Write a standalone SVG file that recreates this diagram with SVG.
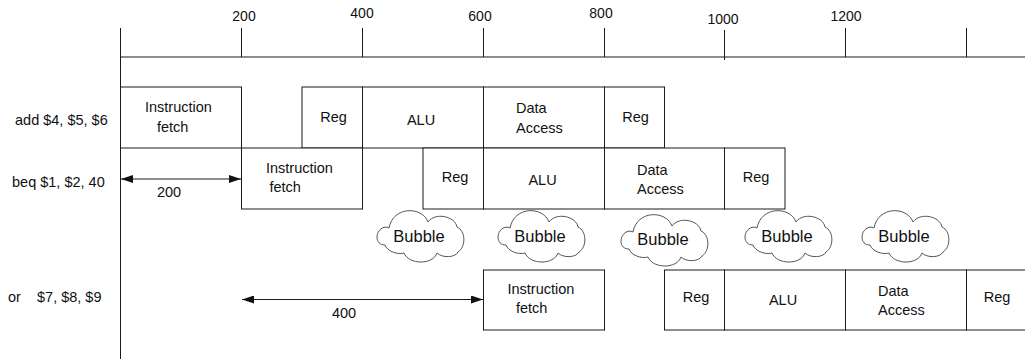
<svg xmlns="http://www.w3.org/2000/svg" xmlns:xlink="http://www.w3.org/1999/xlink" width="1025" height="359" viewBox="0 0 1025 359">
  <style>
    .ln { stroke: #1a1a1a; stroke-width: 1; fill: none; }
    .box { stroke: #1a1a1a; stroke-width: 1; fill: #ffffff; }
    .cloud { stroke: #555555; stroke-width: 1; fill: #ffffff; }
    text { font-family: "Liberation Sans", Arial, sans-serif; font-size: 14.5px; fill: #111111; }
    .tick { font-size: 14px; text-anchor: middle; }
    .mid { text-anchor: middle; }
    .bub { font-size: 16.5px; text-anchor: middle; }
  </style>
  <defs>
    <marker id="ah" viewBox="0 0 12 8" refX="12" refY="4" markerWidth="12" markerHeight="8" markerUnits="userSpaceOnUse" orient="auto-start-reverse">
      <path d="M0,0 L12,4 L0,8 Z" fill="#111111"/>
    </marker>
    <!-- cloud outline, local box about 89 x 55 -->
    <path id="cloud" class="cloud" d="M 14 19 C 9 16, 2 21, 2 28 C 2 33, 5 36, 10 36 C 12 42, 22 46, 29 44 C 34 56, 58 56, 62 44 C 67 49, 80 49, 83 43 C 91 38, 91 22, 82 18 C 80 7, 60 3, 53 13 C 47 -3, 18 -3, 14 19 Z"/>
  </defs>

  <rect width="1025" height="359" fill="#ffffff"/>

  <!-- time axis -->
  <g id="axis">
    <line class="ln" x1="120.5" y1="28" x2="120.5" y2="359"/>
    <line class="ln" x1="120" y1="57" x2="1025" y2="57"/>
    <line class="ln" x1="241.5" y1="28" x2="241.5" y2="57"/>
    <line class="ln" x1="362.5" y1="28" x2="362.5" y2="57"/>
    <line class="ln" x1="483.5" y1="28" x2="483.5" y2="57"/>
    <line class="ln" x1="604.5" y1="28" x2="604.5" y2="57"/>
    <line class="ln" x1="724.5" y1="30" x2="724.5" y2="60"/>
    <line class="ln" x1="845.5" y1="28" x2="845.5" y2="57"/>
    <line class="ln" x1="966.5" y1="28" x2="966.5" y2="57"/>
    <text class="tick" x="244" y="21">200</text>
    <text class="tick" x="362" y="18">400</text>
    <text class="tick" x="480" y="21">600</text>
    <text class="tick" x="601" y="18">800</text>
    <text class="tick" x="723" y="24">1000</text>
    <text class="tick" x="846" y="21">1200</text>
  </g>

  <!-- instruction labels -->
  <g id="labels">
    <text x="15" y="125">add $4, $5, $6</text>
    <text x="12" y="187">beq $1, $2, 40</text>
    <text x="8" y="302">or</text>
    <text x="37" y="302">$7, $8, $9</text>
  </g>

  <!-- add $4, $5, $6 -->
  <g id="add-if">
    <rect class="box" x="120.5" y="87" width="121" height="61"/>
    <text x="145" y="111.5">Instruction</text>
    <text x="157" y="131.5">fetch</text>
  </g>
  <g id="add-reg1">
    <rect class="box" x="302" y="87" width="60.5" height="61"/>
    <text class="mid" x="333.5" y="122">Reg</text>
  </g>
  <g id="add-alu">
    <rect class="box" x="362.5" y="87" width="121" height="61"/>
    <text class="mid" x="421" y="125">ALU</text>
  </g>
  <g id="add-da">
    <rect class="box" x="483.5" y="87" width="121" height="61"/>
    <text x="516" y="113">Data</text>
    <text x="516" y="133">Access</text>
  </g>
  <g id="add-reg2">
    <rect class="box" x="604.5" y="87" width="60" height="61"/>
    <text class="mid" x="635.5" y="122">Reg</text>
  </g>

  <!-- beq $1, $2, 40 -->
  <g id="beq-if">
    <rect class="box" x="241.5" y="148" width="121" height="61"/>
    <text x="266" y="172.5">Instruction</text>
    <text x="269.5" y="191.5">fetch</text>
  </g>
  <g id="beq-reg1">
    <rect class="box" x="423" y="148" width="60.5" height="61"/>
    <text class="mid" x="455" y="182">Reg</text>
  </g>
  <g id="beq-alu">
    <rect class="box" x="483.5" y="148" width="121" height="61"/>
    <text class="mid" x="542.5" y="185">ALU</text>
  </g>
  <g id="beq-da">
    <rect class="box" x="604.5" y="148" width="120" height="61"/>
    <text x="637" y="175">Data</text>
    <text x="637" y="194">Access</text>
  </g>
  <g id="beq-reg2">
    <rect class="box" x="724.5" y="148" width="60.5" height="61"/>
    <text class="mid" x="756" y="182">Reg</text>
  </g>

  <!-- pipeline bubbles -->
  <g id="bubble1">
    <use xlink:href="#cloud" x="375" y="209"/>
    <text class="bub" x="419" y="242">Bubble</text>
  </g>
  <g id="bubble2">
    <use xlink:href="#cloud" x="496" y="209"/>
    <text class="bub" x="540" y="242">Bubble</text>
  </g>
  <g id="bubble3">
    <use xlink:href="#cloud" x="619" y="213"/>
    <text class="bub" x="663" y="245">Bubble</text>
  </g>
  <g id="bubble4">
    <use xlink:href="#cloud" x="743" y="209"/>
    <text class="bub" x="787" y="242">Bubble</text>
  </g>
  <g id="bubble5">
    <use xlink:href="#cloud" x="860" y="209"/>
    <text class="bub" x="904" y="242">Bubble</text>
  </g>

  <!-- or $7, $8, $9 -->
  <g id="or-if">
    <rect class="box" x="483.5" y="270" width="121" height="60"/>
    <text x="507.5" y="294">Instruction</text>
    <text x="516" y="312.5">fetch</text>
  </g>
  <g id="or-reg1">
    <rect class="box" x="664.5" y="270" width="60" height="60"/>
    <text class="mid" x="696" y="302">Reg</text>
  </g>
  <g id="or-alu">
    <rect class="box" x="724.5" y="270" width="121" height="60"/>
    <text class="mid" x="783" y="305">ALU</text>
  </g>
  <g id="or-da">
    <rect class="box" x="845.5" y="270" width="121" height="60"/>
    <text x="878" y="296">Data</text>
    <text x="878" y="315">Access</text>
  </g>
  <g id="or-reg2">
    <rect class="box" x="966.5" y="270" width="70" height="60"/>
    <text class="mid" x="997" y="302">Reg</text>
  </g>

  <!-- timing arrows -->
  <g id="connectors">
    <line class="ln" x1="121" y1="179" x2="241" y2="179" marker-start="url(#ah)" marker-end="url(#ah)"/>
    <line class="ln" x1="242" y1="299.5" x2="483" y2="299.5" marker-start="url(#ah)" marker-end="url(#ah)"/>
    <text class="mid" x="169" y="197">200</text>
    <text class="mid" x="344" y="318">400</text>
  </g>
</svg>
